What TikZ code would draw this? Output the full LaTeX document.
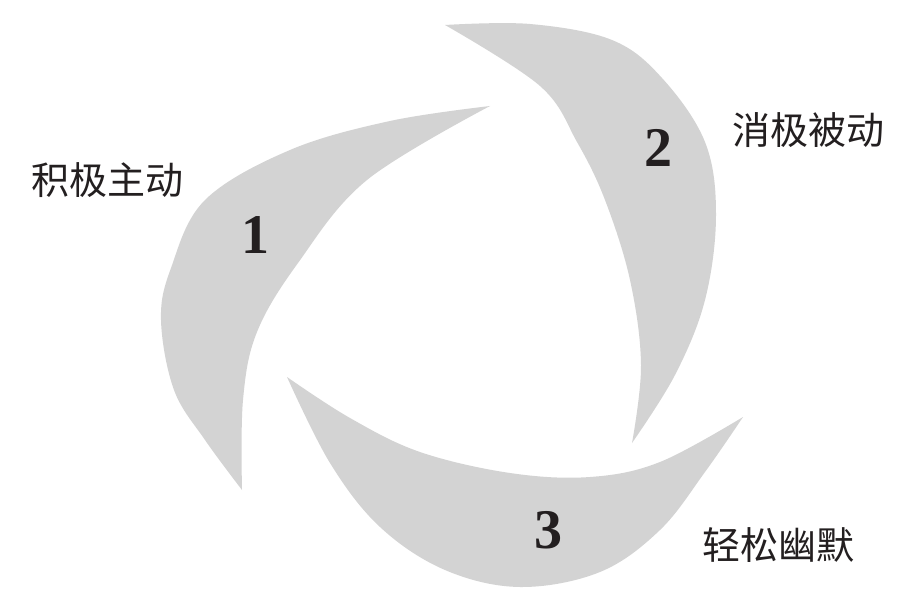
\documentclass[tikz,border=0pt]{standalone}
\usepackage{fontspec}
\newfontfamily\cjk{Noto Sans CJK SC}
\newfontfamily\numfont{Liberation Serif}
\definecolor{petal}{RGB}{211,211,211}
\definecolor{ink}{RGB}{35,31,32}
\begin{document}
\begin{tikzpicture}[x=1pt,y=-1pt,
  petalfill/.style={fill=petal},
  tag/.style={font=\cjk\fontsize{38}{42}\selectfont, text=ink, inner sep=0pt},
  num/.style={font=\numfont\bfseries\fontsize{56}{60}\selectfont, text=ink, inner sep=0pt}]
\useasboundingbox (0,0) rectangle (912,612);
% petal 1 (left)
\fill[petalfill] plot[smooth, tension=0.6] coordinates
  {(490,106) (390,121) (290,150) (205,200) (171,268) (161,320) (174,390) (205,440) (242,490)}
  -- plot[smooth, tension=0.6] coordinates
  {(242,490) (243,400) (257,332) (298,263) (367,180) (490,106)} -- cycle;
% petal 2 (upper right)
\fill[petalfill] plot[smooth, tension=0.6] coordinates
  {(445,25) (530,24) (612,40) (662,78) (705,142) (716,215) (705,300) (675,375) (632,443)}
  -- plot[smooth, tension=0.6] coordinates
  {(632,443) (641,365) (630,280) (605,200) (577,142) (540,86) (445,25)} -- cycle;
% petal 3 (bottom)
\fill[petalfill] plot[smooth, tension=0.6] coordinates
  {(287,377) (350,418) (420,452) (510,473) (590,477) (660,462) (743,417)}
  -- plot[smooth, tension=0.6] coordinates
  {(743,417) (705,472) (660,530) (600,572) (520,587) (445,570) (380,527) (330,463) (287,377)} -- cycle;
% numbers
\node[num] (n1) at (255,235) {1};
\node[num] (n2) at (658,148) {2};
\node[num] (n3) at (548,530) {3};
% labels
\node[tag] (t1) at (107,180) {积极主动};
\node[tag] (t2) at (808,130) {消极被动};
\node[tag] (t3) at (778,545) {轻松幽默};
\end{tikzpicture}
\end{document}
